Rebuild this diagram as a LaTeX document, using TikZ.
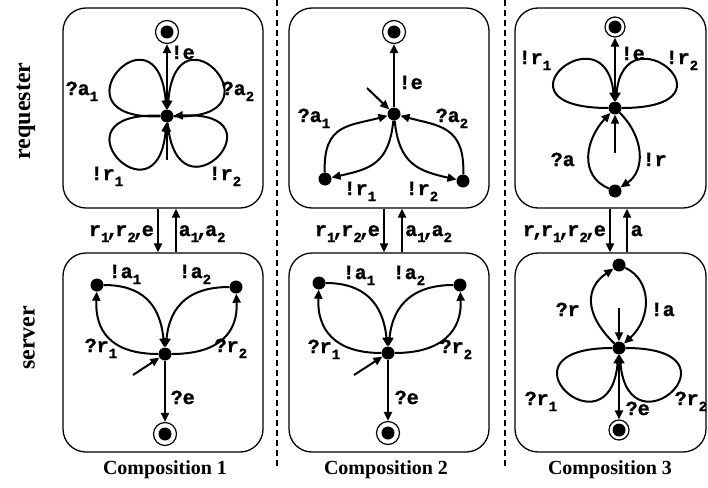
\documentclass[tikz,border=0pt]{standalone}
\usepackage{fontspec}
\setmainfont{Liberation Serif}
\setmonofont{Liberation Mono}[BoldFeatures={FakeBold=1.2}]
\usetikzlibrary{arrows.meta}
\newcommand\sbx[1]{\raisebox{-6pt}{\fontsize{14}{14}\selectfont #1}}
\newcommand\cmx{\makebox[6pt][c]{,}}
\tikzset{
  st/.style={circle,fill,inner sep=0pt,minimum size=13pt},
  fin/.style={circle,draw,line width=1.2pt,inner sep=0pt,minimum size=23pt,
    path picture={\fill (path picture bounding box.center) circle (6.5pt);}},
  box/.style={draw,rounded corners=23pt,line width=1.3pt,inner sep=0pt},
  ed/.style={line width=2pt,-{Triangle[length=9pt,width=8pt]}},
  lb/.style={font=\ttfamily\bfseries\fontsize{20}{20}\selectfont,inner sep=0pt,anchor=base west},
  lbe/.style={lb,anchor=base east},
  sidetxt/.style={font=\bfseries\fontsize{24}{24}\selectfont,rotate=90,inner sep=0pt},
  captxt/.style={font=\bfseries\fontsize{20}{20}\selectfont,inner sep=0pt},
}
\begin{document}
\begin{tikzpicture}[x=1pt,y=-1pt]
\useasboundingbox (0,0) rectangle (708,487);
% boxes
\node[box,minimum width=200pt,minimum height=200pt] (req1) at (163,108) {};
\node[box,minimum width=200pt,minimum height=200pt] (req2) at (389,108) {};
\node[box,minimum width=191pt,minimum height=200pt] (req3) at (610.5,108) {};
\node[box,minimum width=200pt,minimum height=199pt] (srv1) at (163,352.5) {};
\node[box,minimum width=200pt,minimum height=199pt] (srv2) at (389,352.5) {};
\node[box,minimum width=191pt,minimum height=199pt] (srv3) at (610.5,352.5) {};
% dashed separators
\draw[line width=2pt,dash pattern=on 6pt off 4pt] (277,0) -- (277,467);
\draw[line width=2pt,dash pattern=on 6pt off 4pt] (505,0) -- (505,467);
% side labels and captions
\node[sidetxt] (lreq) at (26,111) {requester};
\node[sidetxt] (lsrv) at (29,338) {server};
\node[captxt] (cap1) at (165,470) {Composition 1};
\node[captxt] (cap2) at (386,470) {Composition 2};
\node[captxt] (cap3) at (610,470) {Composition 3};

% ---------- Composition 1 requester
\node[st] (c1) at (167,116) {};
\node[fin] (f1) at (167,32) {};
\coordinate (i1) at (167,160);
\draw[ed] (c1) -- (f1);
\draw[ed] (i1) -- (c1);
\draw[ed] (c1) .. controls +(-120,5) and +(-10,-118) .. (c1);
\draw[ed] (c1) .. controls +(120,5) and +(10,-118) .. (c1);
\draw[ed] (c1) .. controls +(-120,-5) and +(-10,112) .. (c1);
\draw[ed] (c1) .. controls +(10,112) and +(120,-5) .. (c1);
\node[lb] (t1a) at (170.5,59) {!e};
\node[lb] (t1b) at (65.5,95) {?a\sbx{1}};
\node[lb] (t1c) at (221.5,95) {?a\sbx{2}};
\node[lb] (t1d) at (90.5,180) {!r\sbx{1}};
\node[lb] (t1e) at (208.5,180) {!r\sbx{2}};

% ---------- Composition 2 requester
\node[st] (c2) at (394,114) {};
\node[st] (l2) at (325,179) {};
\node[st] (r2) at (463,181) {};
\node[fin] (f2) at (394,32) {};
\coordinate (i2) at (367,88);
\draw[ed] (c2) -- (f2);
\draw[ed] (i2) -- (c2);
\draw[ed] (l2) .. controls +(-2,-55) and +(-45,12) .. (c2);
\draw[ed] (c2) .. controls +(-5,50) and +(45,-10) .. (l2);
\draw[ed] (r2) .. controls +(2,-55) and +(45,12) .. (c2);
\draw[ed] (c2) .. controls +(5,50) and +(-45,-10) .. (r2);
\node[lb] (t2a) at (398.5,89) {!e};
\node[lb] (t2b) at (297.5,122) {?a\sbx{1}};
\node[lb] (t2c) at (435.5,122) {?a\sbx{2}};
\node[lb] (t2d) at (343.5,195) {!r\sbx{1}};
\node[lb] (t2e) at (405.5,195) {!r\sbx{2}};

% ---------- Composition 3 requester
\node[st] (c3) at (615,108) {};
\node[st] (b3) at (615,191) {};
\node[fin,minimum size=20pt] (f3) at (615,27) {};
\coordinate (i3) at (615,153);
\draw[ed] (c3) -- (f3);
\draw[ed] (i3) -- (c3);
\draw[ed] (c3) .. controls +(-130,0) and +(-10,-100) .. (c3);
\draw[ed] (c3) .. controls +(130,0) and +(10,-100) .. (c3);
\draw[ed] (b3) .. controls +(-36,-15) and +(-30,32) .. (c3);
\draw[ed] (c3) .. controls +(30,30) and +(30,-20) .. (b3);
\node[lb] (t3a) at (620.5,60) {!e};
\node[lb] (t3b) at (518.5,64) {!r\sbx{1}};
\node[lb] (t3c) at (665.5,64) {!r\sbx{2}};
\node[lb] (t3d) at (550.5,166) {?a};
\node[lb] (t3e) at (642.5,166) {!r};

% ---------- interface arrows
\draw[ed] ([xshift=-5pt]req1.south) -- ([xshift=-5pt]srv1.north);
\draw[ed] ([xshift=13pt]srv1.north) -- ([xshift=13pt]req1.south);
\node[lbe] (m1a) at (154,236) {r\sbx{1}\cmx r\sbx{2}\cmx e};
\node[lb] (m1b) at (178.5,236) {a\sbx{1}\cmx a\sbx{2}};
\draw[ed] ([xshift=-5pt]req2.south) -- ([xshift=-5pt]srv2.north);
\draw[ed] ([xshift=13pt]srv2.north) -- ([xshift=13pt]req2.south);
\node[lbe] (m2a) at (380,236) {r\sbx{1}\cmx r\sbx{2}\cmx e};
\node[lb] (m2b) at (405,236) {a\sbx{1}\cmx a\sbx{2}};
\draw[ed] ([xshift=-0.5pt]req3.south) -- ([xshift=-0.5pt]srv3.north);
\draw[ed] ([xshift=16.5pt]srv3.north) -- ([xshift=16.5pt]req3.south);
\node[lbe] (m3a) at (606,236) {r\cmx r\sbx{1}\cmx r\sbx{2}\cmx e};
\node[lb] (m3b) at (630.5,236) {a};

% ---------- Composition 1 server
\node[st] (c4) at (165,354) {};
\node[st] (l4) at (97,285) {};
\node[st] (r4) at (236,287) {};
\node[fin] (f4) at (165,434) {};
\coordinate (i4) at (133,375);
\draw[ed] (c4) -- (f4);
\draw[ed] (i4) -- (c4);
\draw[ed] (c4) .. controls +(-55,0) and +(-2,45) .. (l4);
\draw[ed] (l4) .. controls +(45,0) and +(-5,-50) .. (c4);
\draw[ed] (c4) .. controls +(55,0) and +(2,45) .. (r4);
\draw[ed] (r4) .. controls +(-45,0) and +(5,-50) .. (c4);
\node[lb] (t4a) at (108.5,278) {!a\sbx{1}};
\node[lb] (t4b) at (178.5,278) {!a\sbx{2}};
\node[lb] (t4c) at (84.5,352) {?r\sbx{1}};
\node[lb] (t4d) at (214.5,352) {?r\sbx{2}};
\node[lb] (t4e) at (170.5,404) {?e};

% ---------- Composition 2 server
\node[st] (c5) at (388,353) {};
\node[st] (l5) at (319,283) {};
\node[st] (r5) at (460,285) {};
\node[fin] (f5) at (388,433) {};
\coordinate (i5) at (354,375);
\draw[ed] (c5) -- (f5);
\draw[ed] (i5) -- (c5);
\draw[ed] (c5) .. controls +(-55,0) and +(-2,45) .. (l5);
\draw[ed] (l5) .. controls +(45,0) and +(-5,-50) .. (c5);
\draw[ed] (c5) .. controls +(55,0) and +(2,45) .. (r5);
\draw[ed] (r5) .. controls +(-45,0) and +(5,-50) .. (c5);
\node[lb] (t5a) at (342.5,279) {!a\sbx{1}};
\node[lb] (t5b) at (392.5,279) {!a\sbx{2}};
\node[lb] (t5c) at (307.5,353) {?r\sbx{1}};
\node[lb] (t5d) at (439.5,353) {?r\sbx{2}};
\node[lb] (t5e) at (394.5,404) {?e};

% ---------- Composition 3 server
\node[st] (t6) at (619,265) {};
\node[st] (c6) at (619,348) {};
\node[fin,minimum size=20pt] (f6) at (619,430) {};
\coordinate (i6) at (619,308);
\draw[ed] (c6) -- (f6);
\draw[ed] (i6) -- (c6);
\draw[ed] (c6) .. controls +(-36,-35) and +(-33,22) .. (t6);
\draw[ed] (t6) .. controls +(33,15) and +(33,-30) .. (c6);
\draw[ed] (c6) .. controls +(-130,0) and +(-10,110) .. (c6);
\draw[ed] (c6) .. controls +(130,0) and +(10,110) .. (c6);
\node[lb] (t6a) at (555.5,316) {?r};
\node[lb] (t6b) at (650.5,316) {!a};
\node[lb] (t6c) at (524.5,405) {?r\sbx{1}};
\node[lb] (t6d) at (674.5,405) {?r\sbx{2}};
\node[lb] (t6e) at (625.5,415) {?e};
\end{tikzpicture}
\end{document}
